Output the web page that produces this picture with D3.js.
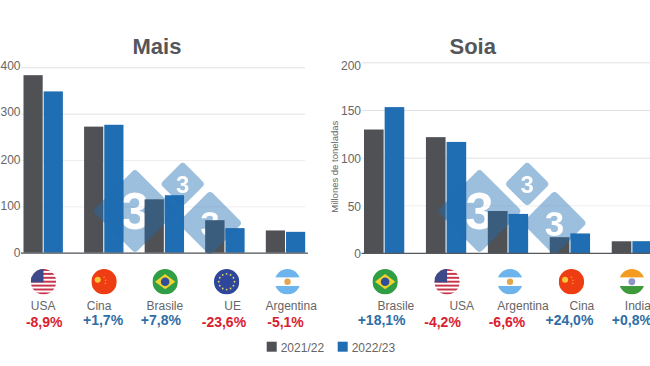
<!DOCTYPE html>
<html>
<head>
<meta charset="utf-8">
<script src="https://cdn.jsdelivr.net/npm/d3@7"></script>
<style>
  html, body { margin: 0; padding: 0; background: #fff; overflow: hidden; }
  text { font-family: "Liberation Sans", Arial, sans-serif; }
</style>
</head>
<body>
<div id="chart"></div>
<script>
const seasons = ['2021/22', '2022/23'];

const maisCountries = ['USA', 'Cina', 'Brasile', 'UE', 'Argentina'];
const mais2122 = [383, 272, 115, 70, 48];
const mais2223 = [348, 276, 124, 53, 45];
const maisChange = ['-8,9%', '+1,7%', '+7,8%', '-23,6%', '-5,1%'];
const maisTicks = [0, 100, 200, 300, 400];

const soiaCountries = ['Brasile', 'USA', 'Argentina', 'Cina', 'India'];
const soia2122 = [129.5, 121.5, 44, 16.5, 12.3];
const soia2223 = [153, 116.5, 41, 20.5, 12.4];
const soiaChange = ['+18,1%', '-4,2%', '-6,6%', '+24,0%', '+0,8%'];
const soiaTicks = [0, 50, 100, 150, 200];

const colors = ['#505155', '#1f6db3'];
const width = 650, height = 366;

const svg = d3.select('#chart').append('svg').attr('width', width).attr('height', height);
const defs = svg.append('defs');

function drawFlag(g, name, r, id) {
  defs.append('clipPath').attr('id', id).append('circle').attr('r', r);
  const f = g.append('g').attr('clip-path', 'url(#' + id + ')');
  const rect = (x, y, w, h, c) => f.append('rect').attr('x', x).attr('y', y).attr('width', w).attr('height', h).attr('fill', c);
  if (name === 'USA') {
    rect(-r, -r, 2 * r, 2 * r, '#fff');
    d3.range(7).forEach((i) => rect(-r, -r + (i * 2 * r * 2) / 13, 2 * r, (2 * r) / 13, '#c8354a'));
    rect(-r, -r, r, r * 1.05, '#3c4a8a');
  } else if (name === 'Cina') {
    rect(-r, -r, 2 * r, 2 * r, '#ee3d12');
    f.append('circle').attr('cx', -r * 0.5).attr('cy', -r * 0.15).attr('r', r * 0.24).attr('fill', '#f5c53a');
    [[0, -0.35], [0.12, -0.12], [0.1, 0.12]].forEach((p) =>
      f.append('circle').attr('cx', p[0] * r).attr('cy', p[1] * r).attr('r', 0.8).attr('fill', '#f5a030'));
  } else if (name === 'Brasile') {
    rect(-r, -r, 2 * r, 2 * r, '#2f9e44');
    f.append('path').attr('d', d3.line()([[-r * 0.8, 0], [0, -r * 0.6], [r * 0.8, 0], [0, r * 0.6]]) + 'Z').attr('fill', '#f2d22e');
    f.append('circle').attr('r', r * 0.34).attr('fill', '#2f4f9a');
  } else if (name === 'UE') {
    rect(-r, -r, 2 * r, 2 * r, '#2f479b');
    d3.range(12).forEach((i) => {
      const a = (i * Math.PI) / 6;
      f.append('circle').attr('cx', Math.cos(a) * r * 0.62).attr('cy', Math.sin(a) * r * 0.62).attr('r', 0.9).attr('fill', '#e8d860');
    });
  } else if (name === 'Argentina') {
    rect(-r, -r, 2 * r, 2 * r, '#fff');
    rect(-r, -r, 2 * r, r * 0.66, '#6db3ec');
    rect(-r, r * 0.34, 2 * r, r * 0.66, '#6db3ec');
    f.append('circle').attr('r', r * 0.25).attr('fill', '#e5a54a');
  } else if (name === 'India') {
    rect(-r, -r, 2 * r, 2 * r, '#fff');
    rect(-r, -r, 2 * r, r * 0.66, '#f39c1f');
    rect(-r, r * 0.34, 2 * r, r * 0.66, '#3f9a3c');
    f.append('circle').attr('r', r * 0.27).attr('fill', '#8f95c8');
  }
}

// watermark diamonds: cx, cy, side, size of the 3
const marks = [[135, 211, 60, 51], [182.7, 184, 32, 24], [210, 223, 46, 35]];

function addDiamonds(layer, dx) {
  marks.forEach((m) => {
    layer.append('rect')
      .attr('x', -m[2] / 2).attr('y', -m[2] / 2).attr('width', m[2]).attr('height', m[2]).attr('rx', 4)
      .attr('transform', 'translate(' + (m[0] + dx) + ',' + m[1] + ') rotate(45)')
      .attr('fill', '#1f6db3');
  });
}

function drawPanel(opts) {
  const x = d3.scaleBand().domain(opts.countries).range(opts.xRange).paddingInner(0.35);
  const x1 = d3.scaleBand().domain(seasons).range([0, x.bandwidth()]).paddingInner(0.05);
  const y = d3.scaleLinear().domain(opts.yDomain).range(opts.yRange);

  const axis = svg.append('g')
    .attr('transform', 'translate(' + opts.axisX + ',0)')
    .call(d3.axisLeft(y).tickValues(opts.ticks).tickSize(-opts.gridW).tickPadding(0.5));
  axis.select('.domain').remove();
  axis.selectAll('line').attr('stroke', (d, i) => opts.gridColors[i]);
  axis.selectAll('text').attr('fill', '#666').attr('font-size', 12)
    .attr('font-family', '"Liberation Sans", Arial, sans-serif')
    .attr('dy', (d, i) => 4.3 + opts.tickNudge[i]);

  // light part of the watermark, with the 3 cut out
  const mask = defs.append('mask').attr('id', 'wm' + opts.name).attr('maskUnits', 'userSpaceOnUse')
    .attr('x', 0).attr('y', 0).attr('width', width).attr('height', height);
  mask.append('rect').attr('width', width).attr('height', height).attr('fill', '#fff');
  marks.forEach((m) => {
    mask.append('text').text('3')
      .attr('x', m[0] + opts.markDx).attr('y', m[1] + m[3] * 0.36)
      .attr('text-anchor', 'middle').attr('font-size', m[3]).attr('font-weight', 'bold').attr('fill', '#000');
  });
  addDiamonds(svg.append('g').attr('mask', 'url(#wm' + opts.name + ')').attr('opacity', 0.43), opts.markDx);

  const barClip = defs.append('clipPath').attr('id', 'bars' + opts.name);
  opts.series.forEach((vals, s) => {
    const place = (sel) => sel
      .attr('x', (d, i) => x(opts.countries[i]) + x1(seasons[s]))
      .attr('y', (d) => y(d))
      .attr('width', x1.bandwidth())
      .attr('height', (d) => y(0) - y(d));
    svg.append('g').selectAll('rect').data(vals).join('rect').call(place).attr('fill', colors[s]);
    barClip.selectAll('rect.s' + s).data(vals).join('rect').attr('class', 's' + s).call(place);
  });

  // the diamonds also tint the bars, but the 3 does not show on them
  addDiamonds(svg.append('g').attr('clip-path', 'url(#bars' + opts.name + ')').append('g').attr('opacity', 0.43), opts.markDx);

  // baseline
  svg.append('line')
    .attr('x1', opts.axisX).attr('x2', opts.axisX + opts.baseW)
    .attr('y1', y(0) + 0.4).attr('y2', y(0) + 0.4)
    .attr('stroke', '#55585c').attr('stroke-width', 1.4);

  svg.append('text').text(opts.name)
    .attr('x', opts.titleX).attr('y', 54)
    .attr('text-anchor', 'middle').attr('font-size', 22).attr('font-weight', 'bold').attr('fill', '#54565a');

  opts.countries.forEach((c, i) => {
    const cx = x(c) + x.bandwidth() / 2;
    const fg = svg.append('g').attr('transform', 'translate(' + (cx + opts.flagNudge[i]) + ',281.7)');
    drawFlag(fg, c, 12.7, 'flag-' + opts.name + i);
    svg.append('text').text(c)
      .attr('x', cx + opts.labelNudge[i]).attr('y', 310)
      .attr('text-anchor', 'middle').attr('font-size', 12).attr('fill', '#666');
    const up = opts.change[i][0] === '+';
    svg.append('text').text(opts.change[i])
      .attr('x', cx + opts.changeNudge[i]).attr('y', up ? 325 : 326.7)
      .attr('text-anchor', 'middle').attr('font-size', 14).attr('font-weight', 'bold')
      .attr('fill', up ? '#2f6ea5' : '#d9202f');
  });
}

drawPanel({
  name: 'Mais', countries: maisCountries, series: [mais2122, mais2223], change: maisChange, ticks: maisTicks,
  xRange: [23.5, 305.2], yDomain: [0, 400], yRange: [252.7, 67.3],
  axisX: 21, gridW: 284, baseW: 287, titleX: 157, markDx: 0,
  gridColors: ['#e2e2e6', '#eeeeee', '#eeeeee', '#e2e2e6', '#e2e2e6'],
  tickNudge: [-0.4, -1, -0.7, -2.6, -2.3],
  flagNudge: [0.3, 0.3, 0.8, 1.7, 2],
  labelNudge: [0, -4.7, 0.5, 7.7, 5.7],
  changeNudge: [1, -0.7, -3.5, -1, 0]
});

drawPanel({
  name: 'Soia', countries: soiaCountries, series: [soia2122, soia2223], change: soiaChange, ticks: soiaTicks,
  xRange: [364, 652], yDomain: [0, 200], yRange: [253, 62.3],
  axisX: 361.5, gridW: 289, baseW: 289, titleX: 472.7, markDx: 344.5,
  gridColors: ['#e2e2e6', '#eeeeee', '#e2e2e6', '#e2e2e6', '#e2e2e6'],
  tickNudge: [-0.3, 0.7, 1, 0.4, 2.7],
  flagNudge: [1, 1, 2, 1.5, 0],
  labelNudge: [11.8, 15.7, 15, 12, 6],
  changeNudge: [-2.5, -3.5, -1, -0.5, 0]
});

svg.append('text').text('Millones de toneladas')
  .attr('transform', 'translate(337.5,166.7) rotate(-90)')
  .attr('text-anchor', 'middle').attr('font-size', 9.5).attr('fill', '#666');

// legend
const legend = svg.append('g');
seasons.forEach((s, i) => {
  const lx = [266.7, 337.7][i];
  legend.append('rect').attr('x', lx).attr('y', 341.7).attr('width', 10).attr('height', 10).attr('fill', colors[i]);
  legend.append('text').text(s).attr('x', lx + 14).attr('y', 351.7).attr('font-size', 12).attr('fill', '#666');
});
</script>
</body>
</html>
